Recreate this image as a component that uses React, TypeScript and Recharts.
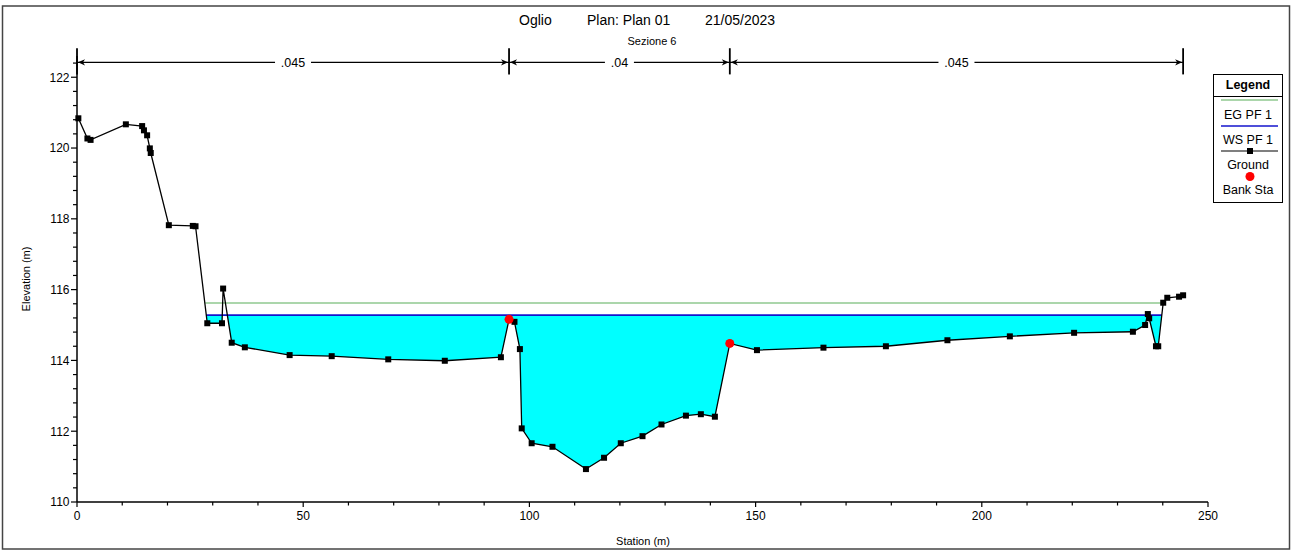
import React from 'react';
import { ComposedChart, XAxis, YAxis, Area, Line, Scatter, ReferenceLine } from 'recharts';

// ---------- data ----------
const groundStation = [
  0.3, 2.3, 3.0, 10.8, 14.4, 14.8, 15.5, 16.1, 16.3, 20.3, 25.6, 26.2, 28.8, 32.05, 32.3,
  34.2, 37.1, 47.0, 56.3, 68.8, 81.3, 93.7, 95.5, 96.7, 97.9, 98.3, 100.5, 105.1, 112.5,
  116.5, 120.2, 125.0, 129.2, 134.6, 137.9, 141.0, 144.3, 150.3, 165.0, 178.8, 192.4,
  206.2, 220.4, 233.4, 236.1, 236.7, 237.0, 238.5, 239.0, 240.1, 241.0, 243.6, 244.5,
];
const groundElev = [
  120.84, 120.27, 120.23, 120.67, 120.62, 120.5, 120.36, 119.99, 119.86, 117.82, 117.8, 117.79,
  115.05, 115.05, 116.03, 114.5, 114.37, 114.15, 114.12, 114.03, 113.99, 114.09, 115.16, 115.09,
  114.32, 112.08, 111.66, 111.56, 110.93, 111.25, 111.66, 111.86, 112.19, 112.44, 112.48, 112.41,
  114.48, 114.29, 114.36, 114.4, 114.57, 114.68, 114.78, 114.81, 115.0, 115.31, 115.19, 114.4,
  114.4, 115.63, 115.77, 115.8, 115.84,
];
const bankStation = [95.5, 144.3];
const bankElev = [115.16, 114.48];
const wsStation = [28.6, 239.8];
const wsElevation = 115.28;
const egStation = [28.35, 239.95];
const egElevation = 115.62;
const manningBreaks = [0, 95.5, 144.3, 244.5];
const manningValues = ['.045', '.04', '.045'];
const manningLineElev = 122.42;
const manningBarLow = 122.08;
const manningBarHigh = 122.82;

const xTicks = [0, 50, 100, 150, 200, 250];
const xMinorTicks = [0, 10, 20, 30, 40, 50, 60, 70, 80, 90, 100, 110, 120, 130, 140, 150, 160, 170, 180, 190, 200, 210, 220, 230, 240, 250];
const yTicks = [110, 112, 114, 116, 118, 120, 122];
const yMinorTicks = [110, 110.4, 110.8, 111.2, 111.6, 112, 112.4, 112.8, 113.2, 113.6, 114, 114.4, 114.8, 115.2, 115.6, 116, 116.4, 116.8, 117.2, 117.6, 118, 118.4, 118.8, 119.2, 119.6, 120, 120.4, 120.8, 121.2, 121.6, 122, 122.4];

// ---------- tables built from data ----------
const groundData = groundStation.map((x, i) => ({ x, y: groundElev[i] }));
const bankData = bankStation.map((x, i) => ({ x, y: bankElev[i] }));
const wsData = wsStation.map((x) => ({ x, y: wsElevation }));
const egData = egStation.map((x) => ({ x, y: egElevation }));

const FONT = '"Liberation Sans", Arial, sans-serif';
const W = 1292;
const H = 551;

const SquareDot = (p: any) => {
  if (p.cx == null || p.cy == null) return <g key={`e${p.index}`} />;
  return <rect key={`d${p.index}`} x={p.cx - 3} y={p.cy - 3} width={6} height={6} fill="#000" />;
};

const BankDot = (p: any) => <circle cx={p.cx} cy={p.cy} r={4.5} fill="#ff0000" />;

// tickSize and tickMargin are 0 on both axes, so x/y given here sit on the axis line
const XTick = (p: any) => {
  const v = p.payload.value;
  const major = xTicks.includes(v);
  return (
    <g>
      <line x1={p.x} y1={p.y} x2={p.x} y2={p.y + (major ? 5 : 3.5)} stroke="#000" strokeWidth={1.2} />
      {major && (
        <text x={p.x} y={p.y + 18} textAnchor="middle" fontFamily={FONT} fontSize={12} fill="#000">
          {v}
        </text>
      )}
    </g>
  );
};

const YTick = (p: any) => {
  const v = p.payload.value;
  const major = yTicks.includes(v);
  return (
    <g>
      <line x1={p.x} y1={p.y} x2={p.x - (major ? 6 : 4)} y2={p.y} stroke="#000" strokeWidth={1.2} />
      {major && (
        <text x={p.x - 7.5} y={p.y + 4.3} textAnchor="end" fontFamily={FONT} fontSize={12} fill="#000">
          {v}
        </text>
      )}
    </g>
  );
};

const makeSegmentShape = (label: string) => (p: any) => {
  const { x1, y1, x2 } = p;
  const mx = (x1 + x2) / 2;
  const gap = label.length * 7 + 8;
  return (
    <g>
      <line x1={x1} y1={y1} x2={mx - gap / 2} y2={y1} stroke="#000" strokeWidth={1.2} />
      <line x1={mx + gap / 2} y1={y1} x2={x2} y2={y1} stroke="#000" strokeWidth={1.2} />
      <path d={`M${x1 + 1},${y1} L${x1 + 8},${y1 - 3.2} L${x1 + 6},${y1} L${x1 + 8},${y1 + 3.2} Z`} fill="#000" />
      <path d={`M${x2 - 1},${y1} L${x2 - 8},${y1 - 3.2} L${x2 - 6},${y1} L${x2 - 8},${y1 + 3.2} Z`} fill="#000" />
      <text x={mx} y={y1 + 4.5} textAnchor="middle" fontFamily={FONT} fontSize={12.5} fill="#000">
        {label}
      </text>
    </g>
  );
};

export default function App() {
  return (
    <div style={{ position: 'absolute', left: 0, top: 0, width: W, height: H, background: '#fff' }}>
      <ComposedChart
        width={W}
        height={H}
        margin={{ top: 56, right: 84, bottom: 0, left: 0 }}
      >
        <XAxis
          type="number"
          dataKey="x"
          domain={[0, 250]}
          ticks={xMinorTicks}
          interval={0}
          tickSize={0}
          tickMargin={0}
          tickLine={false}
          height={49}
          axisLine={{ stroke: '#000', strokeWidth: 1.5 }}
          tick={XTick}
        />
        <YAxis
          type="number"
          domain={[110, 122.6]}
          ticks={yMinorTicks}
          interval={0}
          tickSize={0}
          tickMargin={0}
          tickLine={false}
          width={77}
          axisLine={{ stroke: '#000', strokeWidth: 1.5 }}
          tick={YTick}
        />

        <Area
          data={wsData}
          dataKey="y"
          type="linear"
          fill="#00ffff"
          fillOpacity={1}
          stroke="none"
          baseValue={110}
          isAnimationActive={false}
        />
        <Area
          data={groundData}
          dataKey="y"
          type="linear"
          fill="#ffffff"
          fillOpacity={1}
          stroke="none"
          baseValue={110}
          isAnimationActive={false}
        />
        <Line
          data={egData}
          dataKey="y"
          type="linear"
          stroke="#8fc98f"
          strokeWidth={1.6}
          dot={false}
          isAnimationActive={false}
        />
        <Line
          data={wsData}
          dataKey="y"
          type="linear"
          stroke="#1414cc"
          strokeWidth={1.6}
          dot={false}
          isAnimationActive={false}
        />
        <Line
          data={groundData}
          dataKey="y"
          type="linear"
          stroke="#000"
          strokeWidth={1.3}
          dot={SquareDot}
          isAnimationActive={false}
        />
        <Scatter data={bankData} dataKey="y" shape={BankDot} isAnimationActive={false} />

        {manningValues.map((v, i) => (
          <ReferenceLine
            key={`seg${i}`}
            ifOverflow="visible"
            segment={[
              { x: manningBreaks[i], y: manningLineElev },
              { x: manningBreaks[i + 1], y: manningLineElev },
            ]}
            shape={makeSegmentShape(v)}
          />
        ))}
        {manningBreaks.map((b, i) => (
          <ReferenceLine
            key={`bar${i}`}
            ifOverflow="visible"
            segment={[
              { x: b, y: manningBarLow },
              { x: b, y: manningBarHigh },
            ]}
            stroke="#000"
            strokeWidth={1.8}
          />
        ))}
      </ComposedChart>

      <svg
        width={W}
        height={H}
        style={{ position: 'absolute', left: 0, top: 0, pointerEvents: 'none' }}
      >
        <rect x={2.5} y={6} width={1287} height={543} fill="none" stroke="#444" strokeWidth={1.5} />
        <text x={519} y={25} fontFamily={FONT} fontSize={14} fill="#000">Oglio</text>
        <text x={587} y={25} fontFamily={FONT} fontSize={14} fill="#000">Plan: Plan 01</text>
        <text x={705} y={25} fontFamily={FONT} fontSize={14} fill="#000">21/05/2023</text>
        <text x={652} y={45} textAnchor="middle" fontFamily={FONT} fontSize={11} fill="#000">Sezione 6</text>
        <text x={643} y={545} textAnchor="middle" fontFamily={FONT} fontSize={11} fill="#000">Station (m)</text>
        <text x={0} y={0} transform="translate(30,279) rotate(-90)" textAnchor="middle" fontFamily={FONT} fontSize={11} fill="#000">
          Elevation (m)
        </text>
        <rect x={1213.5} y={74.5} width={69} height={128} fill="#fff" stroke="#000" strokeWidth={1} />
        <text x={1248} y={89} textAnchor="middle" fontFamily={FONT} fontSize={12.5} fontWeight="bold" fill="#000">Legend</text>
        <line x1={1213.5} y1={96.5} x2={1282.5} y2={96.5} stroke="#000" strokeWidth={1} />
        <line x1={1221} y1={100} x2={1278} y2={100} stroke="#8fc98f" strokeWidth={1.6} />
        <text x={1248} y={119} textAnchor="middle" fontFamily={FONT} fontSize={12.5} fill="#000">EG PF 1</text>
        <line x1={1221} y1={126} x2={1278} y2={126} stroke="#1414cc" strokeWidth={1.4} />
        <text x={1248} y={144} textAnchor="middle" fontFamily={FONT} fontSize={12.5} fill="#000">WS PF 1</text>
        <line x1={1221} y1={151} x2={1278} y2={151} stroke="#000" strokeWidth={1.2} />
        <rect x={1247} y={148} width={6} height={6} fill="#000" />
        <text x={1248} y={169} textAnchor="middle" fontFamily={FONT} fontSize={12.5} fill="#000">Ground</text>
        <circle cx={1250} cy={176.5} r={4.5} fill="#ff0000" />
        <text x={1248} y={194} textAnchor="middle" fontFamily={FONT} fontSize={12.5} fill="#000">Bank Sta</text>
      </svg>
    </div>
  );
}
